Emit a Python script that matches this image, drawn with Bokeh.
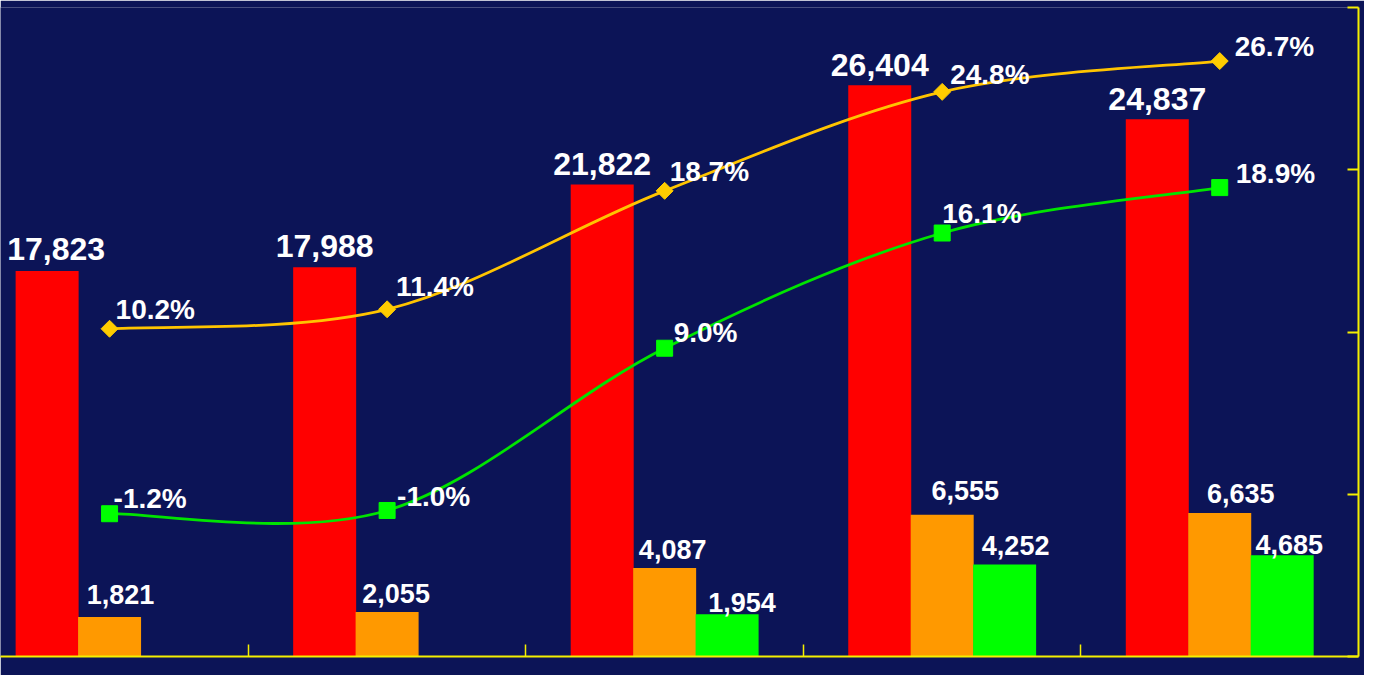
from bokeh.plotting import figure
from bokeh.models import Range1d, LinearAxis, FixedTicker, ColumnDataSource
from bokeh.core.properties import value
from bokeh.embed import file_html
from bokeh.resources import INLINE

# ---------------- data ----------------
periods = ["P1", "P2", "P3", "P4", "P5"]
red_values = [17823, 17988, 21822, 26404, 24837]
orange_values = [1821, 2055, 4087, 6555, 6635]
green_values = [None, None, 1954, 4252, 4685]
yellow_pct = [10.2, 11.4, 18.7, 24.8, 26.7]
green_pct = [-1.2, -1.0, 9.0, 16.1, 18.9]

# ---------------- styles / label placement (pixels) ----------------
BG = "#0c1457"
AX = "#f5f000"
RED = "#ff0000"
ORANGE = "#ff9900"
GREEN = "#00ff00"
YEL_LINE = "#ffc400"
GRN_LINE = "#00e400"
FONT = value("Liberation Sans")

red_dx = [9, 0, 0, 0, 0]
red_dy = [-22, -21, -20, -20, -20]
orange_dx = [11, 9, 8, 23, 21]
orange_dy = [-23, -19, -19, -24, -19]
green_dx = [0, 0, 15, 11, 7]
green_dy = [0, 0, -12, -19, -11]
ypct_dx = [6, 9, 5, 8, 15]
ypct_dy = [-19, -23, -19, -17, -15]
gpct_dx = [4, 10, 9, 0, 16]
gpct_dy = [-15, -14, -16, -20, -14]

BW = 0.227
OFF = 0.225

xs = list(range(len(periods)))

p = figure(width=1364, height=675,
           x_range=Range1d(-0.393, 4.5), y_range=Range1d(0, 30000),
           output_backend="svg", toolbar_location=None,
           x_axis_location=None, y_axis_location=None,
           background_fill_color=BG, border_fill_color=BG,
           outline_line_color=None,
           min_border_left=0, min_border_right=6,
           min_border_top=7, min_border_bottom=19)
p.grid.grid_line_color = None
p.extra_y_ranges = {"pct": Range1d(-10, 30)}

# axes (tick marks only, no tick labels)
r_ticks = [-10, 0, 10, 20, 30]
b_ticks = [0.5, 1.5, 2.5, 3.5]
ax_r = LinearAxis(y_range_name="pct", ticker=FixedTicker(ticks=r_ticks),
                  axis_line_color=AX, axis_line_width=2,
                  major_tick_line_color=AX, major_tick_line_width=2,
                  major_tick_in=11, major_tick_out=0,
                  minor_tick_line_color=None,
                  major_label_overrides={t: "" for t in r_ticks},
                  major_label_text_color=None,
                  major_label_text_font_size="1px", major_label_standoff=0)
p.add_layout(ax_r, "right")
ax_b = LinearAxis(ticker=FixedTicker(ticks=b_ticks),
                  axis_line_color=AX, axis_line_width=2,
                  major_tick_line_color=AX, major_tick_line_width=1.5,
                  major_tick_in=12, major_tick_out=0,
                  minor_tick_line_color=None,
                  major_label_overrides={t: "" for t in b_ticks},
                  major_label_text_color=None,
                  major_label_text_font_size="1px", major_label_standoff=0)
p.add_layout(ax_b, "below")

# bars
red_src = ColumnDataSource(dict(x=[x - OFF for x in xs], top=red_values,
                                lab=[f"{v:,}" for v in red_values], dx=red_dx, dy=red_dy))
org_src = ColumnDataSource(dict(x=list(xs), top=orange_values,
                                lab=[f"{v:,}" for v in orange_values], dx=orange_dx, dy=orange_dy))
gi = [i for i, v in enumerate(green_values) if v is not None]
grn_src = ColumnDataSource(dict(x=[xs[i] + OFF for i in gi], top=[green_values[i] for i in gi],
                                lab=[f"{green_values[i]:,}" for i in gi],
                                dx=[green_dx[i] for i in gi], dy=[green_dy[i] for i in gi]))

for src, col in ((red_src, RED), (org_src, ORANGE), (grn_src, GREEN)):
    p.vbar(x="x", top="top", bottom=0, width=BW, source=src,
           fill_color=col, line_color=None)

p.text(x="x", y="top", text="lab", x_offset="dx", y_offset="dy", source=red_src,
       text_align="center", text_baseline="alphabetic", text_color="white",
       text_font=FONT, text_font_style="bold", text_font_size="32px")
for src in (org_src, grn_src):
    p.text(x="x", y="top", text="lab", x_offset="dx", y_offset="dy", source=src,
           text_align="center", text_baseline="alphabetic", text_color="white",
           text_font=FONT, text_font_style="bold", text_font_size="27px")


# smoothed lines drawn as cubic Bezier segments through the data points
def bez(xv, yv):
    n = len(xv)
    d = dict(x0=[], y0=[], x1=[], y1=[], cx0=[], cy0=[], cx1=[], cy1=[])
    for i in range(n - 1):
        a, b = max(i - 1, 0), min(i + 2, n - 1)
        d["x0"].append(xv[i]); d["y0"].append(yv[i])
        d["x1"].append(xv[i + 1]); d["y1"].append(yv[i + 1])
        d["cx0"].append(xv[i] + (xv[i + 1] - xv[a]) / 6)
        d["cy0"].append(yv[i] + (yv[i + 1] - yv[a]) / 6)
        d["cx1"].append(xv[i + 1] - (xv[b] - xv[i]) / 6)
        d["cy1"].append(yv[i + 1] - (yv[b] - yv[i]) / 6)
    return ColumnDataSource(d)


p.bezier(x0="x0", y0="y0", x1="x1", y1="y1", cx0="cx0", cy0="cy0", cx1="cx1", cy1="cy1",
         source=bez(xs, yellow_pct), y_range_name="pct", line_color=YEL_LINE, line_width=2.8)
p.bezier(x0="x0", y0="y0", x1="x1", y1="y1", cx0="cx0", cy0="cy0", cx1="cx1", cy1="cy1",
         source=bez(xs, green_pct), y_range_name="pct", line_color=GRN_LINE, line_width=2.8)

ysrc = ColumnDataSource(dict(x=xs, y=yellow_pct, lab=[f"{v:.1f}%" for v in yellow_pct],
                             dx=ypct_dx, dy=ypct_dy))
gsrc = ColumnDataSource(dict(x=xs, y=green_pct, lab=[f"{v:.1f}%" for v in green_pct],
                             dx=gpct_dx, dy=gpct_dy))
p.scatter(x="x", y="y", source=ysrc, y_range_name="pct", marker="square", angle=0.785398,
          size=12, fill_color="#ffcc00", line_color="#ffcc00")
p.scatter(x="x", y="y", source=gsrc, y_range_name="pct", marker="square",
          size=16, fill_color=GREEN, line_color=GREEN)

for src in (ysrc, gsrc):
    p.text(x="x", y="y", text="lab", x_offset="dx", y_offset="dy", source=src,
           y_range_name="pct", text_align="left", text_baseline="alphabetic",
           text_color="white", text_font=FONT, text_font_style="bold",
           text_font_size="28px")

open("out.html", "w").write(file_html(p, INLINE))
